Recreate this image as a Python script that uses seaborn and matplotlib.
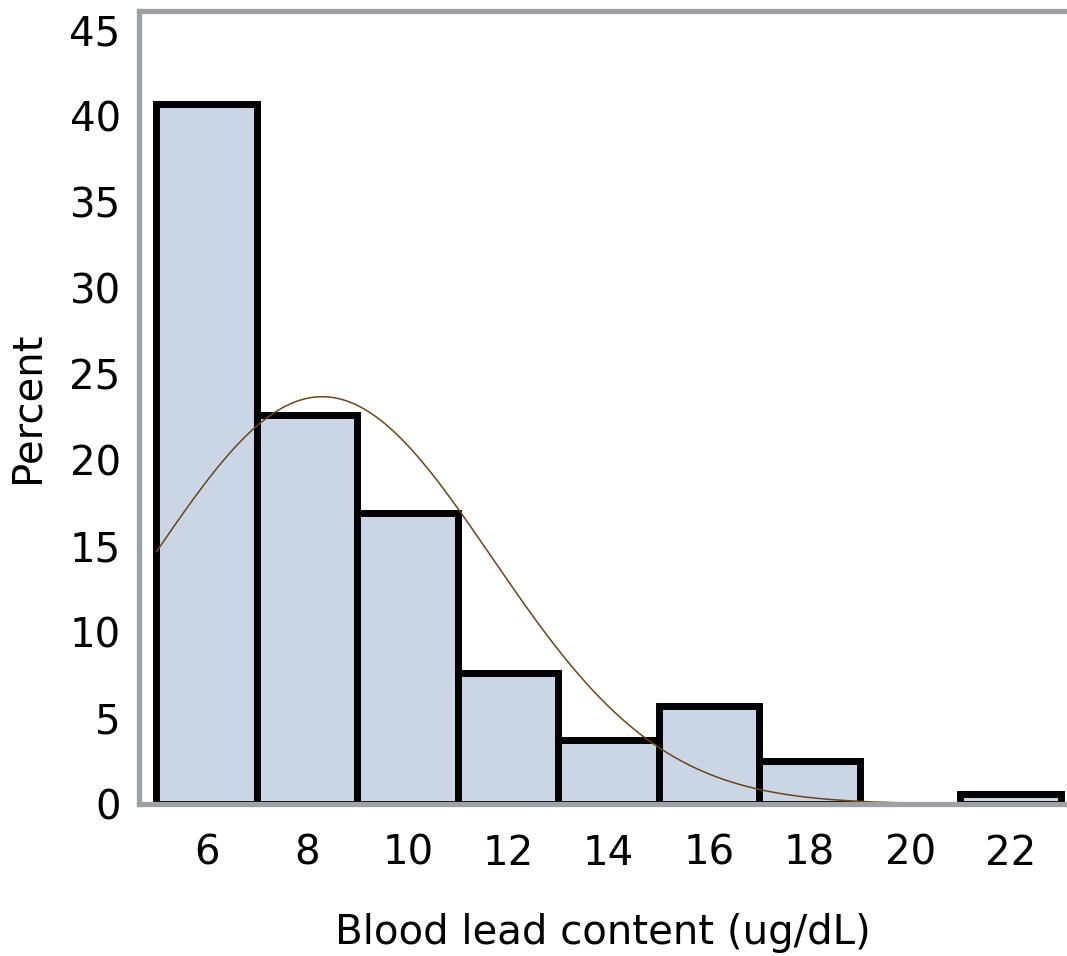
import numpy as np
import pandas as pd
import matplotlib
matplotlib.use("Agg")
import matplotlib.pyplot as plt
import seaborn as sns

# Histogram bins (ug/dL) and percent of subjects in each bin
bin_edges = [5, 7, 9, 11, 13, 15, 17, 19, 21, 23]
bin_percent = [40.7, 22.6, 16.9, 7.6, 3.7, 5.7, 2.5, 0.0, 0.6]

# Fitted normal curve parameters
normal_mean = 8.3
normal_sd = 3.37

x_ticks = [6, 8, 10, 12, 14, 16, 18, 20, 22]
y_ticks = [0, 5, 10, 15, 20, 25, 30, 35, 40, 45]

sns.set_style("white")
plt.rcParams["font.family"] = ["DejaVu Sans"]

bar_fill = "#CAD5E5"
axis_gray = "#9EA2A6"
curve_color = "#6B4618"

fig = plt.figure(figsize=(10.67, 9.56), dpi=100)
ax = fig.add_axes([0.1307, 0.159, 0.8693, 0.829])

centers = [(a + b) / 2 for a, b in zip(bin_edges[:-1], bin_edges[1:])]
hist_df = pd.DataFrame({"lead": centers, "pct": bin_percent})

sns.histplot(data=hist_df, x="lead", weights="pct", bins=bin_edges,
             color=bar_fill, alpha=1.0, edgecolor="black", linewidth=5.0,
             ax=ax, zorder=1)

# Empty bins are left undrawn
for p in list(ax.patches):
    if p.get_height() == 0:
        p.remove()

bin_width = bin_edges[1] - bin_edges[0]
xs = np.linspace(bin_edges[0], bin_edges[-1], 400)
ys = 100 * bin_width * np.exp(-0.5 * ((xs - normal_mean) / normal_sd) ** 2) / (normal_sd * np.sqrt(2 * np.pi))
curve_df = pd.DataFrame({"lead": xs, "pct": ys})
sns.lineplot(data=curve_df, x="lead", y="pct", color=curve_color, linewidth=1.1, ax=ax, zorder=3)

ax.set_xlim(4.664, 23.12)
ax.set_ylim(0, 46.07)
ax.set_xticks(x_ticks)
ax.set_yticks(y_ticks)
ax.set_xticklabels([str(v) for v in x_ticks])
ax.set_yticklabels([str(v) for v in y_ticks])

for side in ["left", "top", "bottom"]:
    ax.spines[side].set_visible(True)
    ax.spines[side].set_color(axis_gray)
    ax.spines[side].set_linewidth(3.8)
    ax.spines[side].set_zorder(4)
ax.spines["right"].set_visible(False)

ax.tick_params(axis="both", which="major", direction="out", color=axis_gray,
               labelcolor="black", labelsize=29, width=2.2)
ax.tick_params(axis="y", length=4.5, pad=9)
ax.tick_params(axis="x", length=5.5, pad=16)

ax.set_xlabel("Blood lead content (ug/dL)", fontsize=29, labelpad=28, color="black")
ax.set_ylabel("Percent", fontsize=29, labelpad=16, color="black")

fig.savefig("out.png", dpi=100)
